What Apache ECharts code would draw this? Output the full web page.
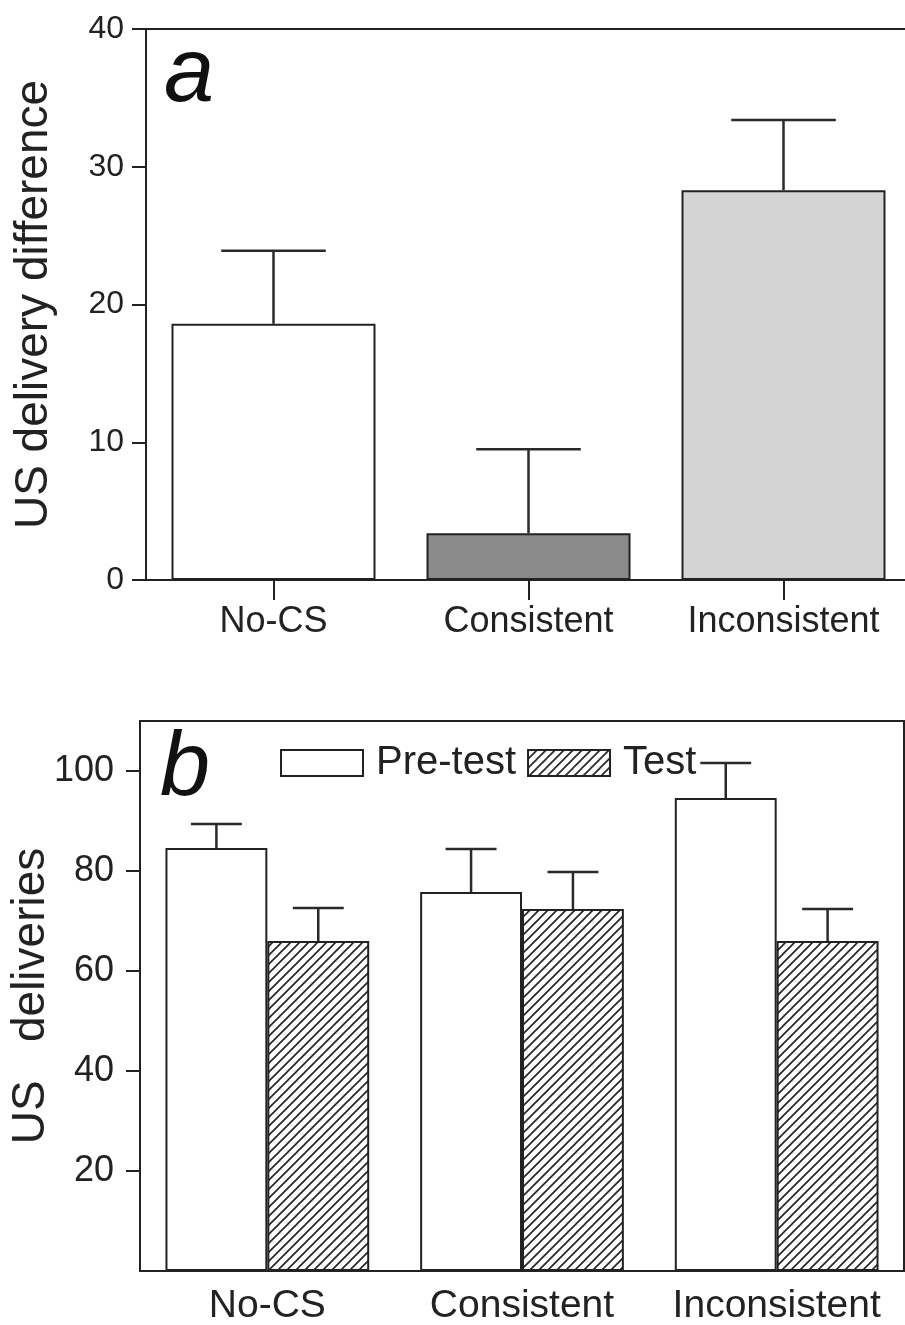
<!DOCTYPE html>
<html>
<head>
<meta charset="utf-8">
<script src="https://cdn.jsdelivr.net/npm/echarts@6/dist/echarts.min.js"></script>
<style>
  html, body { margin: 0; padding: 0; background: #fff; }
  #chart { width: 905px; height: 1325px; }
</style>
</head>
<body>
<div id="chart"></div>
<script>
// panel a
var categories = ['No-CS', 'Consistent', 'Inconsistent'];
var diffMean = [18.6, 3.4, 28.3];
var diffUpper = [23.9, 9.5, 33.4];
var diffColors = ['#ffffff', '#8a8a8a', '#d4d4d4'];

// panel b
var preTest = [84.6, 75.8, 94.6];
var preTestUpper = [89.4, 84.4, 101.6];
var testVals = [66.0, 72.4, 66.0];
var testUpper = [72.6, 79.8, 72.4];
var deliveryTicks = [20, 40, 60, 80, 100];

var FONT = '"Liberation Sans", Arial, Helvetica, sans-serif';
var INK = '#222';

// diagonal hatch for the Test bars
function makeHatch() {
  var s = 9;
  var c = document.createElement('canvas');
  c.width = s; c.height = s;
  var ctx = c.getContext('2d');
  ctx.fillStyle = '#fff';
  ctx.fillRect(0, 0, s, s);
  ctx.strokeStyle = '#222';
  ctx.lineWidth = 1.6;
  ctx.beginPath();
  ctx.moveTo(0, s); ctx.lineTo(s, 0);
  ctx.moveTo(-2, 2); ctx.lineTo(2, -2);
  ctx.moveTo(s - 2, s + 2); ctx.lineTo(s + 2, s - 2);
  ctx.stroke();
  return c;
}
var hatch = { image: makeHatch(), repeat: 'repeat' };

function errorBars(offsetFrac, capFrac) {
  return function (params, api) {
    var i = api.value(0);
    var band = api.size([1, 0])[0];
    var base = api.coord([i, api.value(1)]);
    var top = api.coord([i, api.value(2)]);
    var x = base[0] + offsetFrac * band;
    var half = capFrac * band / 2;
    var st = { stroke: '#2a2a2a', lineWidth: 2.5 };
    return {
      type: 'group',
      children: [
        { type: 'line', shape: { x1: x, y1: base[1], x2: x, y2: top[1] }, style: st },
        { type: 'line', shape: { x1: x - half, y1: top[1], x2: x + half, y2: top[1] }, style: st }
      ]
    };
  };
}

function errData(mean, upper) {
  return mean.map(function (m, i) { return [i, m, upper[i]]; });
}

var chart = echarts.init(document.getElementById('chart'));

var option = {
  animation: false,
  backgroundColor: '#fff',
  textStyle: { fontFamily: FONT, color: INK },
  grid: [
    { left: 146, top: 29, width: 765, height: 551, show: true, borderColor: INK, borderWidth: 2,
      containLabel: false, outerBoundsMode: 'none' },
    { left: 140, top: 721, width: 764, height: 550, show: true, borderColor: INK, borderWidth: 2,
      containLabel: false, outerBoundsMode: 'none' }
  ],
  legend: {
    data: ['Pre-test', 'Test'],
    left: 280,
    top: 743,
    padding: 0,
    itemWidth: 82,
    itemHeight: 26,
    itemGap: 11,
    icon: 'rect',
    textStyle: { fontFamily: FONT, fontSize: 40, color: INK, padding: [0, 0, 0, 8] }
  },
  xAxis: [
    {
      gridIndex: 0, type: 'category', data: categories,
      axisLine: { lineStyle: { color: INK, width: 2 } },
      axisTick: { show: true, alignWithLabel: true, length: 20, lineStyle: { color: INK, width: 2 } },
      axisLabel: { fontFamily: FONT, fontSize: 36, color: INK, margin: 24, interval: 0 }
    },
    {
      gridIndex: 1, type: 'category', data: categories,
      axisLine: { lineStyle: { color: INK, width: 2 } },
      axisTick: { show: false },
      axisLabel: { fontFamily: FONT, fontSize: 39, color: INK, margin: 16, interval: 0 }
    }
  ],
  yAxis: [
    {
      gridIndex: 0, type: 'value', min: 0, max: 40, interval: 10,
      name: 'US delivery difference', nameLocation: 'middle', nameGap: 89, nameRotate: 90,
      nameMoveOverlap: false,
      nameTextStyle: { fontFamily: FONT, fontSize: 46, color: INK },
      axisLine: { show: true, lineStyle: { color: INK, width: 2 } },
      axisTick: { show: true, length: 14, lineStyle: { color: INK, width: 2 } },
      axisLabel: { fontFamily: FONT, fontSize: 32, color: INK, margin: 22 },
      splitLine: { show: false }
    },
    {
      gridIndex: 1, type: 'value', min: 0, max: 110, interval: 10,
      name: 'US   deliveries', nameLocation: 'middle', nameGap: 86, nameRotate: 90,
      nameMoveOverlap: false,
      nameTextStyle: { fontFamily: FONT, fontSize: 46, color: INK },
      axisLine: { show: true, lineStyle: { color: INK, width: 2 } },
      axisTick: { show: true, length: 14, customValues: deliveryTicks, lineStyle: { color: INK, width: 2 } },
      axisLabel: { fontFamily: FONT, fontSize: 36, color: INK, margin: 26, customValues: deliveryTicks },
      splitLine: { show: false }
    }
  ],
  series: [
    {
      name: 'Difference', type: 'bar', xAxisIndex: 0, yAxisIndex: 0, barWidth: '80%',
      data: diffMean.map(function (v, i) {
        return { value: v, itemStyle: { color: diffColors[i] } };
      }),
      itemStyle: { borderColor: INK, borderWidth: 2 }
    },
    {
      name: 'Difference error', type: 'custom', xAxisIndex: 0, yAxisIndex: 0, z: 3,
      renderItem: errorBars(0, 0.41),
      encode: { x: 0, y: [1, 2] },
      data: errData(diffMean, diffUpper)
    },
    {
      name: 'Pre-test', type: 'bar', xAxisIndex: 1, yAxisIndex: 1, barWidth: '40%', barGap: '0%',
      data: preTest,
      itemStyle: { color: '#ffffff', borderColor: INK, borderWidth: 2 }
    },
    {
      name: 'Test', type: 'bar', xAxisIndex: 1, yAxisIndex: 1, barWidth: '40%', barGap: '0%',
      data: testVals,
      itemStyle: { color: hatch, borderColor: INK, borderWidth: 2 }
    },
    {
      name: 'Pre-test error', type: 'custom', xAxisIndex: 1, yAxisIndex: 1, z: 3,
      renderItem: errorBars(-0.2, 0.2),
      encode: { x: 0, y: [1, 2] },
      data: errData(preTest, preTestUpper)
    },
    {
      name: 'Test error', type: 'custom', xAxisIndex: 1, yAxisIndex: 1, z: 3,
      renderItem: errorBars(0.2, 0.2),
      encode: { x: 0, y: [1, 2] },
      data: errData(testVals, testUpper)
    }
  ],
  graphic: [
    { type: 'text', left: 164, top: 31, style: { text: 'a', font: 'italic 90px ' + FONT, fill: '#111' } },
    { type: 'text', left: 160, top: 725, style: { text: 'b', font: 'italic 90px ' + FONT, fill: '#111' } }
  ]
};

chart.setOption(option);
</script>
</body>
</html>
